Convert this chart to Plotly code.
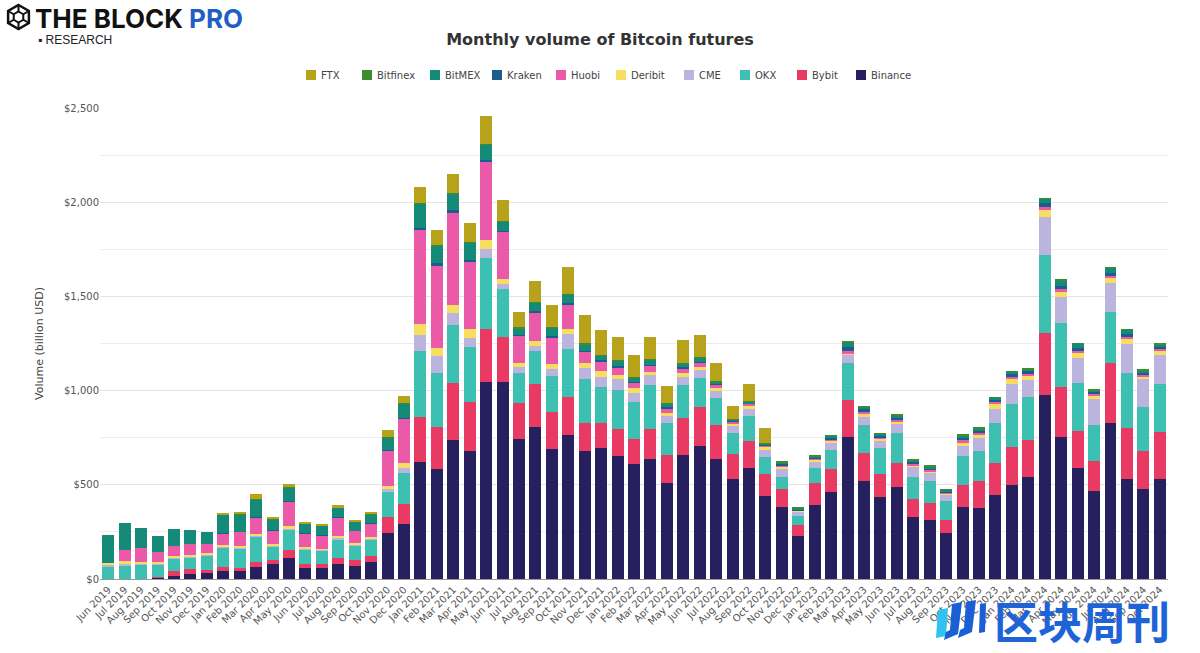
import plotly.graph_objects as go

months = ["Jun 2019", "Jul 2019", "Aug 2019", "Sep 2019", "Oct 2019", "Nov 2019", "Dec 2019",
          "Jan 2020", "Feb 2020", "Mar 2020", "Apr 2020", "May 2020", "Jun 2020", "Jul 2020",
          "Aug 2020", "Sep 2020", "Oct 2020", "Nov 2020", "Dec 2020",
          "Jan 2021", "Feb 2021", "Mar 2021", "Apr 2021", "May 2021", "Jun 2021", "Jul 2021",
          "Aug 2021", "Sep 2021", "Oct 2021", "Nov 2021", "Dec 2021",
          "Jan 2022", "Feb 2022", "Mar 2022", "Apr 2022", "May 2022", "Jun 2022", "Jul 2022",
          "Aug 2022", "Sep 2022", "Oct 2022", "Nov 2022", "Dec 2022",
          "Jan 2023", "Feb 2023", "Mar 2023", "Apr 2023", "May 2023", "Jun 2023", "Jul 2023",
          "Aug 2023", "Sep 2023", "Oct 2023", "Nov 2023", "Dec 2023",
          "Jan 2024", "Feb 2024", "Mar 2024", "Apr 2024", "May 2024", "Jun 2024", "Jul 2024",
          "Aug 2024", "Sep 2024", "Oct 2024"]

binance = [0, 0, 0, 10, 18, 28, 32, 42, 42, 64, 78, 110, 60, 60, 81, 71, 92, 246, 292,
           621, 586, 738, 680, 1048, 1048, 742, 809, 689, 763, 680, 694,
           653, 611, 635, 508, 660, 706, 639, 529, 588, 441, 381, 230,
           395, 462, 752, 522, 437, 487, 331, 313, 246, 381, 375, 446,
           501, 540, 977, 756, 589, 466, 830, 529, 476, 529]
bybit = [0, 0, 0, 2, 24, 25, 14, 22, 18, 24, 21, 46, 21, 21, 32, 32, 32, 85, 106,
         241, 223, 301, 260, 278, 235, 194, 226, 198, 202, 150, 133,
         142, 131, 163, 152, 197, 209, 179, 135, 147, 117, 95, 55,
         113, 120, 198, 145, 119, 127, 92, 89, 67, 120, 147, 168,
         202, 198, 327, 262, 199, 162, 315, 273, 205, 253]
okx = [64, 74, 78, 64, 68, 62, 78, 101, 102, 135, 74, 105, 74, 68, 99, 74, 85, 133, 167,
       350, 287, 308, 290, 377, 255, 160, 177, 191, 255, 230, 191,
       209, 200, 232, 166, 173, 150, 145, 110, 131, 92, 67, 50,
       80, 103, 199, 149, 140, 163, 120, 116, 103, 154, 159, 213,
       224, 227, 415, 340, 255, 188, 273, 290, 234, 253]
cme = [8, 6, 4, 4, 5, 5, 5, 6, 6, 6, 4, 5, 5, 5, 6, 5, 6, 12, 23,
       84, 88, 64, 48, 50, 28, 31, 25, 35, 81, 59, 56,
       56, 47, 52, 40, 44, 44, 33, 36, 35, 36, 43, 21,
       35, 35, 38, 46, 39, 46, 50, 43, 30, 50, 66, 77,
       108, 92, 200, 138, 131, 140, 152, 156, 145, 152]
deribit = [15, 15, 7, 8, 9, 9, 9, 11, 8, 12, 7, 13, 9, 7, 12, 9, 8, 18, 26,
           58, 41, 45, 48, 44, 25, 21, 28, 29, 28, 30, 32,
           23, 23, 17, 17, 22, 18, 18, 17, 18, 15, 10, 6,
           9, 14, 11, 14, 10, 11, 12, 12, 8, 21, 18, 25,
           29, 25, 41, 30, 24, 16, 28, 25, 14, 21]
huobi = [0, 60, 76, 57, 49, 57, 50, 62, 74, 85, 74, 131, 71, 72, 96, 64, 74, 187, 237,
         499, 439, 489, 359, 414, 253, 142, 149, 141, 128, 58, 50,
         41, 31, 32, 23, 23, 21, 18, 9, 10, 7, 5, 4,
         5, 6, 10, 10, 7, 10, 7, 7, 5, 10, 9, 9,
         10, 10, 14, 12, 11, 9, 12, 11, 9, 11]
kraken = [0, 0, 0, 0, 0, 0, 0, 2, 2, 2, 2, 2, 2, 2, 2, 2, 2, 3, 4,
          12, 12, 11, 9, 11, 5, 5, 6, 6, 6, 5, 5,
          5, 5, 5, 5, 5, 5, 5, 5, 5, 5, 7, 4,
          8, 10, 22, 14, 10, 11, 9, 9, 8, 14, 14, 16,
          14, 10, 21, 18, 16, 12, 16, 14, 12, 14]
bitmex = [149, 141, 104, 82, 92, 74, 62, 96, 89, 95, 57, 74, 50, 47, 52, 46, 43, 68, 76,
          126, 92, 88, 92, 85, 48, 37, 47, 46, 46, 35, 27,
          31, 23, 27, 21, 21, 24, 10, 6, 10, 8, 12, 7,
          7, 11, 26, 13, 10, 14, 10, 10, 8, 13, 12, 10,
          12, 11, 25, 30, 25, 10, 27, 24, 14, 14]
bitfinex = [0, 0, 0, 0, 0, 0, 0, 2, 2, 4, 2, 3, 2, 2, 2, 2, 2, 3, 3,
            7, 5, 4, 4, 4, 4, 3, 4, 4, 4, 4, 3,
            3, 2, 3, 2, 2, 4, 3, 2, 3, 3, 2, 1,
            1, 2, 2, 2, 1, 2, 1, 1, 1, 2, 2, 2,
            2, 2, 2, 2, 2, 1, 2, 2, 1, 2]
ftx = [0, 0, 0, 0, 0, 0, 0, 8, 12, 25, 10, 15, 4, 3, 9, 9, 12, 36, 38,
       82, 80, 102, 102, 147, 110, 82, 113, 114, 142, 151, 131,
       124, 116, 117, 91, 119, 113, 95, 69, 88, 76, 0, 0,
       0, 0, 0, 0, 0, 0, 0, 0, 0, 0, 0, 0,
       0, 0, 0, 0, 0, 0, 0, 0, 0, 0]

series = [
    ("Binance", binance, "#27205f"),
    ("Bybit", bybit, "#e83a62"),
    ("OKX", okx, "#3dbfb1"),
    ("CME", cme, "#bab4de"),
    ("Deribit", deribit, "#f6df5e"),
    ("Huobi", huobi, "#eb5aa8"),
    ("Kraken", kraken, "#1c5d90"),
    ("BitMEX", bitmex, "#168a78"),
    ("Bitfinex", bitfinex, "#3e8c2c"),
    ("FTX", ftx, "#b7a21c"),
]

fig = go.Figure()
for name, vals, color in series:
    fig.add_trace(go.Bar(x=months, y=vals, name=name, showlegend=False,
                         marker=dict(color=color, line=dict(width=0))))

# pixel -> paper helpers (plot area: x 100..1168, y 108..579)
L, R, T, B = 100, 1168, 108, 579


def px(p):
    return (p - L) / (R - L)


def py(p):
    return (B - p) / (B - T)


shapes = []
annotations = []

# custom legend, FTX first (top of stack first)
legend_x = [306, 362, 430, 492, 556, 616, 684, 740, 797, 856]
for (name, _, color), lx in zip(reversed(series), legend_x):
    shapes.append(dict(type="rect", xref="paper", yref="paper",
                       x0=px(lx), x1=px(lx + 10), y0=py(70), y1=py(80),
                       fillcolor=color, line=dict(width=0)))
    annotations.append(dict(text=name, x=px(lx + 13), y=py(75), xref="paper", yref="paper",
                            xanchor="left", yanchor="middle", showarrow=False,
                            font=dict(family="DejaVu Sans", size=10, color="#444")))

# logo icon (cube-like hexagon)
cx, cy, r = 18.5, 17, 12
hexpts = [(cx, cy - r), (cx + 0.866 * r, cy - r / 2), (cx + 0.866 * r, cy + r / 2),
          (cx, cy + r), (cx - 0.866 * r, cy + r / 2), (cx - 0.866 * r, cy - r / 2)]
path = "M " + " L ".join(f"{px(a):.5f},{py(b):.5f}" for a, b in hexpts) + " Z"
r2 = 5.5
inner = [(cx, cy - r2), (cx + 0.866 * r2, cy - r2 / 2), (cx + 0.866 * r2, cy + r2 / 2),
         (cx, cy + r2), (cx - 0.866 * r2, cy + r2 / 2), (cx - 0.866 * r2, cy - r2 / 2)]
path2 = "M " + " L ".join(f"{px(a):.5f},{py(b):.5f}" for a, b in inner) + " Z"
shapes += [
    dict(type="path", xref="paper", yref="paper", path=path,
         line=dict(color="#111", width=2.5)),
    dict(type="path", xref="paper", yref="paper", path=path2,
         line=dict(color="#111", width=2)),
]
for i in range(6):
    a, b = hexpts[i]
    c, d = inner[i]
    shapes.append(dict(type="line", xref="paper", yref="paper",
                       x0=px(a), y0=py(b), x1=px(c), y1=py(d),
                       line=dict(color="#111", width=2)))

# watermark icon (stylised bars)
wm_bars = [
    ([(938, 610), (948, 608), (946, 636), (936, 638)], "#2ec3f0"),
    ([(952, 604), (962, 602), (958, 634), (944, 640), (946, 632), (950, 630)], "#1a5fd6"),
    ([(966, 602), (976, 600), (972, 632), (958, 638), (960, 630), (964, 628)], "#1a5fd6"),
    ([(980, 604), (986, 603), (985, 632), (979, 633)], "#1a5fd6"),
]
for pts, col in wm_bars:
    p = "M " + " L ".join(f"{px(a):.5f},{py(b):.5f}" for a, b in pts) + " Z"
    shapes.append(dict(type="path", xref="paper", yref="paper", path=p,
                       fillcolor=col, line=dict(width=0), layer="above"))

annotations += [
    dict(text="<b>THE BLOCK <span style='color:#1f5fc5'>PRO</span></b>",
         x=px(33), y=py(18), xref="paper", yref="paper", xanchor="left", yanchor="middle",
         showarrow=False, font=dict(family="Inter", size=26, color="#111")),
    dict(text="▪ RESEARCH", x=px(36), y=py(40), xref="paper", yref="paper",
         xanchor="left", yanchor="middle", showarrow=False,
         font=dict(family="Liberation Sans", size=12, color="#222")),
    dict(text="<b>区块周刊</b>", x=px(992), y=py(620), xref="paper", yref="paper",
         xanchor="left", yanchor="middle", showarrow=False,
         font=dict(family="Noto Sans CJK SC", size=44, color="#1f63d8")),
]

fig.update_layout(
    barmode="stack",
    bargap=0.27,
    width=1200, height=653,
    margin=dict(l=L, r=1200 - R, t=T, b=653 - B, pad=0),
    plot_bgcolor="white", paper_bgcolor="white",
    font=dict(family="DejaVu Sans", size=10, color="#555"),
    title=dict(text="<b>Monthly volume of Bitcoin futures</b>", x=0.5, xanchor="center",
               y=1 - 39 / 653, yanchor="middle", yref="container",
               font=dict(family="DejaVu Sans", size=16, color="#333")),
    showlegend=False,
    xaxis=dict(tickangle=-45, tickfont=dict(size=10, color="#555"), showgrid=False,
               showline=True, linecolor="#9a9a9a", linewidth=1, ticks="",
               categoryorder="array", categoryarray=months),
    yaxis=dict(range=[0, 2500], dtick=500, tickprefix="$", tickformat=",",
               gridcolor="#e4e4e4", zeroline=False, showline=False,
               tickfont=dict(size=10, color="#555"),
               title=dict(text="Volume (billion USD)", font=dict(size=11, color="#444"),
                          standoff=18),
               minor=dict(dtick=250, showgrid=True, gridcolor="#ececec")),
    shapes=shapes,
    annotations=annotations,
    hovermode=False,
)

fig.write_html("out.html", config={"displayModeBar": False},
               post_script="document.body.style.margin='0px';document.body.style.overflow='hidden';")
